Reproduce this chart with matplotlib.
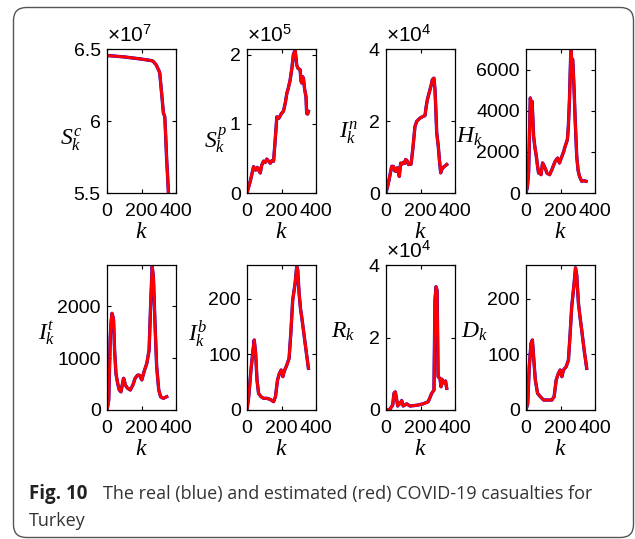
import matplotlib
matplotlib.use("Agg")
import matplotlib.pyplot as plt
from matplotlib.patches import FancyBboxPatch
from matplotlib.ticker import FuncFormatter

plt.rcParams['font.family'] = ['Liberation Sans', 'DejaVu Sans']
plt.rcParams['mathtext.fontset'] = 'custom'
plt.rcParams['mathtext.rm'] = 'Liberation Sans'
plt.rcParams['mathtext.it'] = 'Liberation Serif:italic'

# data (k = day index)
sc_k = [0, 50, 100, 153, 200, 259, 268, 285, 303, 306, 313, 320, 327, 335, 340, 346, 352, 356, 360]
sc_v = [6.455e7, 6.450e7, 6.445e7, 6.437e7, 6.430e7, 6.419e7, 6.414e7, 6.39e7, 6.344e7, 6.33e7,
        6.24e7, 6.15e7, 6.055e7, 6.03e7, 5.90e7, 5.73e7, 5.60e7, 5.50e7, 5.42e7]

sp_k = [0, 20, 38, 50, 60, 67, 72, 77, 85, 96, 105, 115, 125, 135, 145, 154, 163, 173, 185, 200, 211,
        222, 231, 240, 250, 260, 269, 279, 284, 288, 296, 308, 313, 317, 322, 327, 334, 342, 346, 351, 356]
sp_v = [0, 0.18e5, 0.38e5, 0.33e5, 0.37e5, 0.34e5, 0.31e5, 0.29e5, 0.40e5, 0.46e5, 0.44e5, 0.49e5, 0.46e5,
        0.43e5, 0.47e5, 0.46e5, 0.75e5, 1.10e5, 1.08e5, 1.15e5, 1.18e5, 1.30e5, 1.44e5, 1.52e5, 1.63e5,
        1.80e5, 2.00e5, 2.07e5, 1.95e5, 1.85e5, 1.80e5, 1.78e5, 1.62e5, 1.59e5, 1.68e5, 1.66e5, 1.50e5,
        1.39e5, 1.15e5, 1.14e5, 1.18e5]

in_k = [0, 15, 33, 43, 50, 58, 65, 72, 77, 85, 93, 100, 107, 114, 122, 130, 145, 155, 168, 178, 197,
        212, 226, 233, 240, 255, 262, 269, 278, 284, 289, 294, 303, 310, 317, 323, 329, 338, 345, 352]
in_v = [0, 0.30e4, 0.74e4, 0.74e4, 0.62e4, 0.60e4, 0.70e4, 0.65e4, 0.46e4, 0.83e4, 0.80e4, 0.85e4, 0.82e4,
        0.93e4, 0.90e4, 0.79e4, 0.80e4, 1.20e4, 1.85e4, 1.99e4, 2.08e4, 2.12e4, 2.15e4, 2.40e4, 2.60e4,
        2.87e4, 3.00e4, 3.15e4, 3.19e4, 2.87e4, 2.30e4, 1.67e4, 1.30e4, 0.90e4, 0.56e4, 0.65e4, 0.69e4,
        0.74e4, 0.76e4, 0.79e4]

h_k = [0, 8, 15, 25, 30, 35, 40, 44, 52, 60, 67, 73, 80, 87, 96, 106, 114, 121, 137, 150, 160, 169,
       183, 194, 208, 218, 227, 240, 246, 252, 260, 265, 271, 278, 285, 294, 302, 310, 323, 335, 348]
h_v = [0, 300, 970, 4620, 4300, 4460, 3600, 2760, 2200, 1780, 1300, 970, 1050, 890, 1460, 1300, 1150, 970,
       890, 1135, 1350, 1540, 1700, 1460, 1780, 2000, 2270, 2595, 3300, 4540, 6970, 6500, 6490, 5200,
       3570, 1780, 1100, 810, 570, 600, 570]

it_k = [0, 10, 19, 24, 29, 34, 38, 44, 52, 62, 71, 81, 90, 96, 101, 106, 119, 135, 150, 163, 177, 188,
        202, 215, 231, 244, 254, 262, 269, 279, 288, 300, 311, 327, 346]
it_v = [0, 190, 1410, 1700, 1860, 1800, 1730, 1150, 700, 510, 385, 350, 510, 610, 560, 480, 420, 385, 480,
        610, 670, 670, 580, 740, 900, 1150, 2115, 2760, 2560, 1600, 830, 385, 255, 225, 255]

ib_k = [0, 10, 23, 35, 42, 50, 58, 67, 81, 96, 115, 135, 154, 165, 177, 188, 198, 208, 215, 231, 244,
        254, 265, 279, 288, 294, 302, 311, 317, 327, 342, 356]
ib_v = [0, 24, 72, 108, 126, 102, 54, 30, 24, 21, 21, 19, 15, 24, 54, 66, 72, 60, 69, 81, 93, 138, 198,
        228, 258, 252, 210, 180, 168, 144, 108, 75]

r_k = [0, 23, 39, 46, 54, 62, 68, 75, 81, 91, 100, 120, 139, 178, 216, 245, 265, 278, 284, 290, 296,
       302, 313, 319, 324, 329, 338, 345, 352]
r_v = [0, 0.02e4, 0.14e4, 0.46e4, 0.50e4, 0.28e4, 0.11e4, 0.20e4, 0.17e4, 0.26e4, 0.11e4, 0.17e4, 0.11e4,
       0.13e4, 0.17e4, 0.23e4, 0.46e4, 0.55e4, 3.03e4, 3.40e4, 3.30e4, 0.92e4, 0.87e4, 0.64e4, 0.85e4,
       0.78e4, 0.74e4, 0.80e4, 0.60e4]

d_k = [0, 10, 19, 29, 37, 44, 54, 67, 83, 102, 125, 150, 163, 175, 188, 198, 208, 217, 233, 246, 256,
       265, 279, 287, 294, 304, 313, 323, 337, 352]
d_v = [0, 12, 78, 120, 126, 96, 54, 30, 24, 18, 18, 18, 24, 54, 66, 72, 60, 72, 78, 90, 138, 186, 228,
       256, 243, 192, 168, 144, 108, 75]

x_ticks = [0, 200, 400]

panels = [
    (sc_k, sc_v, r'$S_k^c$', 1e7, '7', [5.5e7, 6e7, 6.5e7], (5.5e7, 6.5e7), (-0.36, 0.37)),
    (sp_k, sp_v, r'$S_k^p$', 1e5, '5', [0, 1e5, 2e5], (0, 2.08e5), (-0.29, 0.37)),
    (in_k, in_v, r'$I_k^n$', 1e4, '4', [0, 2e4, 4e4], (0, 4e4), (-0.41, 0.42)),
    (h_k, h_v, r'$H_k$', 1, None, [0, 2000, 4000, 6000], (0, 7000), (-0.62, 0.39)),
    (it_k, it_v, r'$I_k^t$', 1, None, [0, 1000, 2000], (0, 2790), (-0.75, 0.53)),
    (ib_k, ib_v, r'$I_k^b$', 1, None, [0, 100, 200], (0, 261), (-0.58, 0.53)),
    (r_k, r_v, r'$R_k$', 1e4, '4', [0, 2e4, 4e4], (0, 4e4), (-0.45, 0.54)),
    (d_k, d_v, r'$D_k$', 1, None, [0, 100, 200], (0, 261), (-0.55, 0.54)),
]

W, H = 635, 539
fig = plt.figure(figsize=(W / 100, H / 100), dpi=100)

# frame + caption drawn in pixel coords
bg = fig.add_axes([0, 0, 1, 1], zorder=-1)
bg.set_xlim(0, W)
bg.set_ylim(H, 0)
bg.axis('off')
bg.add_patch(FancyBboxPatch((13.5, 7.5), 620, 530, boxstyle='round,pad=0,rounding_size=13',
                            fc='white', ec='#555555', lw=1.0, clip_on=False))
bg.text(29, 499, 'Fig. 10', fontsize=13.5, fontweight='bold', family='Open Sans', color='#222222')
bg.text(103, 499, 'The real (blue) and estimated (red) COVID-19 casualties for',
        fontsize=13, family='Open Sans', color='#333333')
bg.text(29, 526, 'Turkey', fontsize=13, family='Open Sans', color='#333333')

lefts = [107, 247, 386, 526]
rows = [(49, 193), (265, 410)]

for i, (k, v, lab, sc, ex, yt, yl, lpos) in enumerate(panels):
    top, bot = rows[i // 4]
    left = lefts[i % 4]
    ax = fig.add_axes([left / W, 1 - bot / H, 69 / W, (bot - top) / H])
    ax.plot(k, v, color='blue', lw=2.4)
    ax.plot(k, v, color='red', lw=2.1)
    ax.set_xlim(0, 400)
    ax.set_ylim(*yl)
    ax.set_xticks(x_ticks)
    ax.set_xticklabels([str(t) for t in x_ticks])
    ax.set_yticks(yt)
    ax.yaxis.set_major_formatter(FuncFormatter(lambda val, p, s=sc: f'{val / s:g}'))
    ax.tick_params(direction='in', length=3, width=0.8, top=True, right=True, labelsize=14)
    ax.tick_params(axis='x', pad=7)
    ax.tick_params(axis='y', pad=4.5)
    for sp in ax.spines.values():
        sp.set_linewidth(0.9)
    ax.set_xlabel(r'$k$', fontsize=17, labelpad=1)
    ax.set_ylabel(lab, fontsize=17, rotation=0, ha='right', va='center')
    ax.yaxis.set_label_coords(*lpos)
    if ex:
        ax.text(0, 1.02, r'$\times10^{%s}$' % ex, transform=ax.transAxes,
                ha='left', va='bottom', fontsize=15)

fig.savefig('out.png', dpi=100)
